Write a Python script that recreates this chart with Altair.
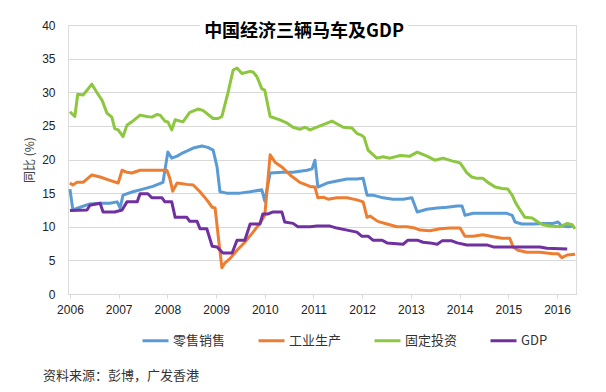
import altair as alt
import pandas as pd

title_text = "中国经济三辆马车及GDP"
y_title = "同比 (%)"
source_text = "资料来源：彭博，广发香港"

series_names = ["零售销售", "工业生产", "固定投资", "GDP"]
series_colors = ["#5B9BD5", "#ED7D31", "#8DC63F", "#7030A0"]
series_widths = [3, 3, 3, 2]

year_ticks = list(range(2006, 2017))
y_ticks = [0, 5, 10, 15, 20, 25, 30, 35, 40]

retail_x = [2006.00, 2006.06, 2006.21, 2006.41, 2006.62, 2006.82, 2006.97, 2007.03, 2007.09, 2007.29,
            2007.50, 2007.70, 2007.91, 2008.01, 2008.09, 2008.20, 2008.32, 2008.53, 2008.71, 2008.83,
            2008.94, 2009.02, 2009.08, 2009.22, 2009.49, 2009.70, 2009.94, 2010.00, 2010.11, 2010.37,
            2010.58, 2010.87, 2010.97, 2011.03, 2011.09, 2011.28, 2011.48, 2011.69, 2011.89, 2012.02,
            2012.10, 2012.22, 2012.43, 2012.63, 2012.84, 2013.02, 2013.13, 2013.33, 2013.54, 2013.74,
            2013.95, 2014.05, 2014.11, 2014.28, 2014.48, 2014.83, 2014.97, 2015.08, 2015.14, 2015.28,
            2015.51, 2015.71, 2015.92, 2016.02, 2016.10, 2016.23, 2016.33]
retail_y = [15.6, 12.5, 12.9, 13.4, 13.5, 13.5, 13.7, 12.8, 14.7, 15.2,
            15.6, 16.0, 16.6, 21.1, 20.2, 20.5, 21.0, 21.7, 22.0, 21.8,
            21.4, 18.9, 15.2, 15.0, 15.0, 15.2, 15.5, 13.8, 18.0, 18.1,
            18.1, 18.4, 18.6, 19.9, 15.9, 16.5, 16.8, 17.1, 17.1, 17.2,
            14.7, 14.7, 14.3, 14.1, 14.1, 14.3, 12.2, 12.6, 12.8, 12.9,
            13.1, 13.1, 11.7, 12.0, 12.0, 12.0, 12.0, 11.7, 10.7, 10.4,
            10.4, 10.5, 10.5, 10.7, 10.1, 10.0, 10.1]

ip_x = [2006.00, 2006.06, 2006.14, 2006.27, 2006.45, 2006.62, 2006.82, 2006.99, 2007.07, 2007.17,
        2007.27, 2007.44, 2007.64, 2007.85, 2007.99, 2008.05, 2008.11, 2008.20, 2008.40, 2008.53,
        2008.67, 2008.81, 2008.92, 2008.98, 2009.06, 2009.12, 2009.18, 2009.29, 2009.43, 2009.59,
        2009.76, 2009.90, 2010.00, 2010.11, 2010.21, 2010.35, 2010.52, 2010.72, 2010.93, 2011.03,
        2011.09, 2011.20, 2011.30, 2011.48, 2011.69, 2011.89, 2012.02, 2012.10, 2012.16, 2012.32,
        2012.51, 2012.71, 2012.92, 2013.08, 2013.19, 2013.39, 2013.60, 2013.80, 2014.01, 2014.11,
        2014.28, 2014.48, 2014.69, 2014.87, 2015.03, 2015.10, 2015.20, 2015.38, 2015.65, 2015.92,
        2016.02, 2016.10, 2016.21, 2016.37]
ip_y = [16.5, 16.2, 16.6, 16.6, 17.7, 17.4, 16.9, 16.5, 18.4, 18.1,
        18.0, 18.4, 18.4, 18.4, 18.4, 17.2, 15.3, 16.5, 16.3, 16.2,
        15.2, 14.0, 12.9, 12.8, 7.6, 3.9, 4.6, 5.3, 6.5, 7.7,
        9.2, 10.5, 11.7, 20.7, 19.6, 18.9, 17.7, 16.6, 16.0, 15.9,
        14.3, 14.4, 14.1, 14.3, 14.3, 14.0, 13.7, 11.4, 11.6, 10.8,
        10.4, 10.0, 10.0, 9.8, 9.5, 9.4, 9.7, 9.8, 9.8, 8.6,
        8.6, 8.8, 8.5, 8.3, 8.3, 7.0, 6.5, 6.2, 6.2, 6.0,
        6.0, 5.4, 5.8, 5.9]

fai_x = [2006.00, 2006.10, 2006.16, 2006.27, 2006.35, 2006.45, 2006.55, 2006.66, 2006.76, 2006.86,
         2006.92, 2006.99, 2007.09, 2007.17, 2007.27, 2007.44, 2007.58, 2007.68, 2007.79, 2007.85,
         2007.95, 2008.01, 2008.09, 2008.16, 2008.32, 2008.46, 2008.63, 2008.73, 2008.94, 2009.04,
         2009.12, 2009.24, 2009.35, 2009.43, 2009.53, 2009.70, 2009.76, 2009.84, 2009.94, 2010.00,
         2010.11, 2010.31, 2010.46, 2010.58, 2010.72, 2010.83, 2010.93, 2011.07, 2011.28, 2011.38,
         2011.61, 2011.79, 2011.89, 2011.99, 2012.04, 2012.12, 2012.30, 2012.43, 2012.57, 2012.78,
         2012.98, 2013.13, 2013.33, 2013.49, 2013.66, 2013.84, 2014.01, 2014.15, 2014.25, 2014.36,
         2014.48, 2014.58, 2014.73, 2014.87, 2014.99, 2015.08, 2015.14, 2015.24, 2015.34, 2015.49,
         2015.61, 2015.71, 2015.86, 2016.06, 2016.21, 2016.31, 2016.37]
fai_y = [27.1, 26.4, 29.7, 29.6, 30.3, 31.2, 30.0, 28.8, 26.9, 26.3,
         24.6, 24.4, 23.4, 25.1, 25.6, 26.6, 26.4, 26.3, 26.7, 26.6,
         25.7, 25.6, 24.4, 25.9, 25.6, 27.0, 27.5, 27.3, 26.1, 26.1,
         26.4, 29.8, 33.3, 33.6, 32.8, 33.1, 33.0, 32.3, 30.5, 30.3,
         26.4, 25.9, 25.4, 24.8, 24.5, 24.8, 24.4, 24.8, 25.4, 25.7,
         24.8, 24.7, 23.9, 23.6, 23.3, 21.4, 20.2, 20.4, 20.2, 20.6,
         20.5, 21.1, 20.5, 19.9, 20.2, 19.8, 19.5, 18.0, 17.4, 17.2,
         17.2, 16.6, 15.9, 15.7, 15.6, 14.7, 13.7, 12.5, 11.4, 11.3,
         10.7, 10.3, 10.1, 10.0, 10.5, 10.3, 9.7]

gdp_x = [2006.00, 2006.35, 2006.41, 2006.62, 2006.68, 2006.92, 2007.07, 2007.17, 2007.38, 2007.44,
         2007.60, 2007.68, 2007.89, 2007.95, 2008.09, 2008.16, 2008.40, 2008.46, 2008.61, 2008.67,
         2008.81, 2008.92, 2009.02, 2009.14, 2009.33, 2009.43, 2009.59, 2009.70, 2009.90, 2009.96,
         2010.07, 2010.17, 2010.35, 2010.41, 2010.58, 2010.68, 2010.93, 2011.07, 2011.34, 2011.48,
         2011.69, 2011.89, 2011.99, 2012.12, 2012.22, 2012.41, 2012.51, 2012.84, 2012.94, 2013.13,
         2013.25, 2013.39, 2013.54, 2013.64, 2013.84, 2013.95, 2014.15, 2014.56, 2014.69, 2015.24,
         2015.65, 2015.79, 2016.21]
gdp_y = [12.4, 12.5, 13.2, 13.5, 12.2, 12.2, 12.5, 13.7, 13.7, 14.9,
         14.9, 14.3, 14.3, 13.7, 13.7, 11.4, 11.4, 10.8, 10.8, 9.7,
         9.7, 7.1, 7.0, 6.1, 6.1, 8.0, 8.0, 10.4, 10.4, 11.9,
         11.9, 12.2, 12.2, 10.7, 10.5, 10.0, 10.0, 10.1, 10.1, 9.8,
         9.5, 9.2, 8.6, 8.6, 8.0, 8.0, 7.6, 7.4, 8.0, 8.0,
         7.7, 7.6, 7.4, 7.9, 7.9, 7.6, 7.3, 7.3, 7.0, 7.0,
         7.0, 6.8, 6.7]

rows = []
for name, xs, ys in zip(series_names,
                        [retail_x, ip_x, fai_x, gdp_x],
                        [retail_y, ip_y, fai_y, gdp_y]):
    for i, (xv, yv) in enumerate(zip(xs, ys)):
        rows.append({"t": xv, "v": yv, "s": name, "i": i})
df = pd.DataFrame(rows)

CJK = "Noto Sans CJK SC"
LAT = "Liberation Sans"

lines = alt.Chart(df).mark_line(strokeJoin="round").encode(
    x=alt.X("t:Q",
            scale=alt.Scale(domain=[2005.96, 2016.39], nice=False, zero=False),
            axis=alt.Axis(values=year_ticks, format="d", grid=False, title=None,
                          domainColor="#d9d9d9", tickColor="#d9d9d9", tickSize=4,
                          labelFont=LAT, labelFontSize=12, labelColor="#222222",
                          labelPadding=6)),
    y=alt.Y("v:Q",
            scale=alt.Scale(domain=[0, 40], nice=False),
            axis=alt.Axis(values=y_ticks, grid=True, gridColor="#d9d9d9", domain=False,
                          ticks=False, labelPadding=13, labelFont=LAT, labelFontSize=12,
                          labelColor="#222222", title=y_title, titleFont=CJK,
                          titleFontSize=12, titleFontWeight="normal", titleColor="#404040",
                          titleX=-39, titleY=134.5, titleBaseline="middle", titleAngle=270)),
    color=alt.Color("s:N",
                    scale=alt.Scale(domain=series_names, range=series_colors),
                    legend=alt.Legend(title=None, orient="none", legendX=73, legendY=301,
                                      direction="horizontal", symbolType="stroke",
                                      symbolSize=676, symbolStrokeWidth=3,
                                      labelFont=CJK, labelFontSize=13, labelColor="#333333",
                                      labelOffset=3, columnPadding=26, padding=0)),
    strokeWidth=alt.StrokeWidth("s:N",
                                scale=alt.Scale(domain=series_names, range=series_widths),
                                legend=None),
    order="i:Q",
)

title_df = pd.DataFrame({"label": [title_text]})
title_bg = alt.Chart(title_df).mark_rect(color="white").encode(
    x=alt.value(132), x2=alt.value(340), y=alt.value(-3), y2=alt.value(15)
)
title = alt.Chart(title_df).mark_text(
    font=CJK, fontSize=18, fontWeight="bold", color="#000000", align="center", baseline="middle"
).encode(x=alt.value(236), y=alt.value(6.5), text="label:N")

source_df = pd.DataFrame({"label": [source_text]})
source = alt.Chart(source_df).mark_text(
    font=CJK, fontSize=13, color="#333333", align="left", baseline="middle"
).encode(x=alt.value(-25), y=alt.value(351), text="label:N")

chart = alt.layer(lines, title_bg, title, source).properties(
    width=508, height=269,
    autosize=alt.AutoSizeParams(type="none"),
    padding={"left": 60, "top": 17, "right": 22, "bottom": 90},
).configure_view(stroke=None).configure(background="white")

chart.save("out.html", embed_options={"renderer": "svg", "actions": False})
